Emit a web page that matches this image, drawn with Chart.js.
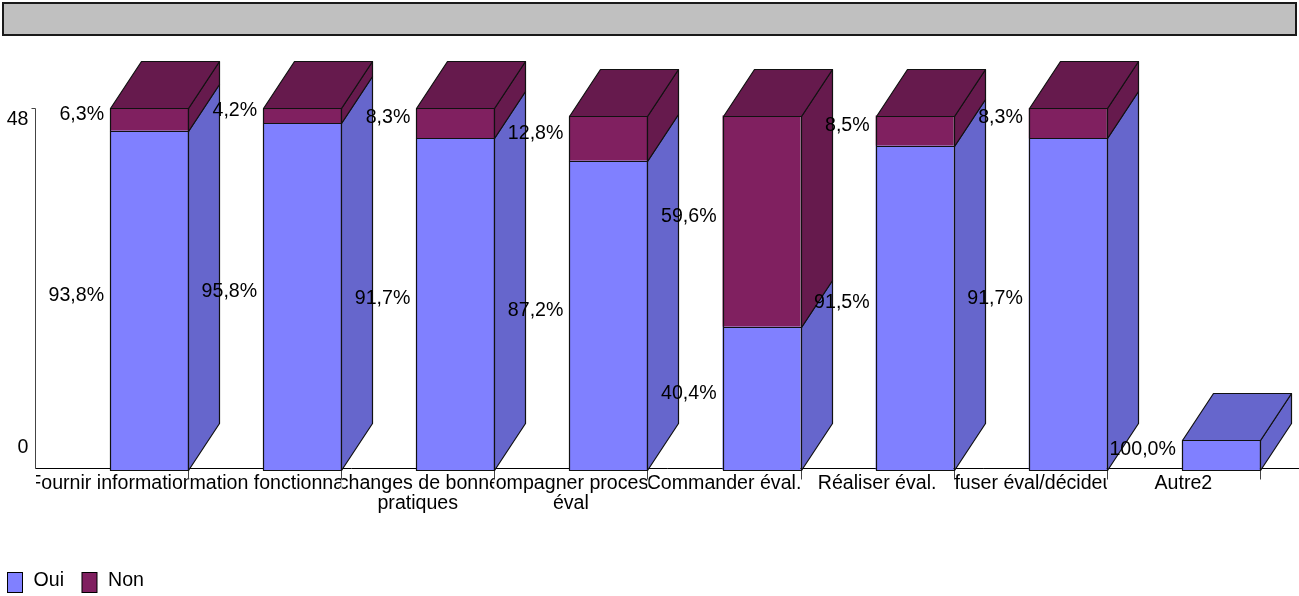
<!DOCTYPE html>
<html>
<head>
<meta charset="utf-8">
<script src="https://cdn.jsdelivr.net/npm/chart.js@4/dist/chart.umd.min.js"></script>
<style>
  body { margin: 0; background: #fff; }
  canvas { display: block; }
</style>
</head>
<body>
<canvas id="barChart" width="1299" height="596"></canvas>
<script>
const categories = [
  "Fournir information",
  "Information fonctionnalités",
  ["Échanges de bonnes", "pratiques"],
  ["Accompagner processus", "éval"],
  "Commander éval.",
  "Réaliser éval.",
  "Diffuser éval/décideurs",
  "Autre2"
];
const ouiCounts = [45, 46, 44, 41, 19, 43, 44, 4];
const nonCounts = [3, 2, 4, 6, 28, 4, 4, 0];
const axisTicks = [0, 48];
const seriesNames = ["Oui", "Non"];

const frontColors = ["#8080FF", "#802060"];
const shadeColors = ["#6666CC", "#661A4D"];
const depthX = 31;
const depthY = 47;
const textFont = "19.6px 'Liberation Sans', Arial, sans-serif";

const formatPct = (v) => v.toFixed(1).replace(".", ",") + "%";

const strokeLine = (ctx, x1, y1, x2, y2) => {
  ctx.beginPath();
  ctx.moveTo(x1, y1);
  ctx.lineTo(x2, y2);
  ctx.stroke();
};

const fillPoly = (ctx, pts, color) => {
  ctx.beginPath();
  ctx.moveTo(pts[0][0], pts[0][1]);
  pts.slice(1).forEach(p => ctx.lineTo(p[0], p[1]));
  ctx.closePath();
  ctx.fillStyle = color;
  ctx.fill();
  ctx.stroke();
};

// slot of a category: the bar front sits at its right edge
const slotOf = (chart, i) => {
  const bar = chart.getDatasetMeta(0).data[i];
  const step = chart.scales.x.width / categories.length;
  const right = bar.x + bar.width / 2;
  return { left: right - step, right: right, center: right - step / 2 };
};

// rounded box of one stacked segment
const boxOf = (el) => ({
  left: Math.round(el.x - el.width / 2) + 0.5,
  right: Math.round(el.x + el.width / 2) + 0.5,
  top: Math.round(Math.min(el.y, el.base)) + 0.5,
  bottom: Math.round(Math.max(el.y, el.base)) + 0.5
});

const cubePlugin = {
  id: "cube3d",
  beforeDatasetsDraw(chart) {
    const ctx = chart.ctx;
    const y = chart.scales.y;
    const axisX = Math.round(slotOf(chart, 0).left) + 0.5;
    const yTop = y.getPixelForValue(axisTicks[1]);
    const yZero = y.getPixelForValue(0);
    const baseY = Math.round(yZero) - 1.5;

    ctx.save();
    ctx.fillStyle = "#C0C0C0";
    ctx.fillRect(3, 3, 1293, 32);
    ctx.strokeStyle = "#1A1A1A";
    ctx.lineWidth = 2;
    ctx.strokeRect(3, 3, 1293, 32);

    ctx.lineWidth = 1;
    ctx.strokeStyle = "#444444";
    strokeLine(ctx, axisX, Math.round(yTop) + 0.5, axisX, baseY);
    strokeLine(ctx, axisX - 4, Math.round(yTop) + 0.5, axisX, Math.round(yTop) + 0.5);
    categories.forEach((c, i) => {
      const r = Math.round(slotOf(chart, i).right) + 0.5;
      strokeLine(ctx, r, baseY, r, baseY + 11);
    });
    ctx.strokeStyle = "#000000";
    strokeLine(ctx, axisX, baseY, chart.width, baseY);

    ctx.font = textFont;
    ctx.fillStyle = "#000";
    ctx.textAlign = "right";
    ctx.textBaseline = "middle";
    ctx.fillText(String(axisTicks[1]), axisX - 7, yTop + 12);
    ctx.fillText(String(axisTicks[0]), axisX - 7, yZero - 22);
    ctx.restore();
  },
  afterDatasetsDraw(chart) {
    const ctx = chart.ctx;
    const metas = [chart.getDatasetMeta(0), chart.getDatasetMeta(1)];
    ctx.save();
    ctx.lineWidth = 1.2;
    ctx.strokeStyle = "#111";
    ctx.lineJoin = "round";

    categories.forEach((c, i) => {
      let topIdx = -1;
      metas.forEach((m, d) => {
        const v = chart.data.datasets[d].data[i];
        if (!v) return;
        topIdx = d;
        const b = boxOf(m.data[i]);
        ctx.strokeRect(b.left, b.top, b.right - b.left, b.bottom - b.top);
        fillPoly(ctx, [
          [b.right, b.bottom], [b.right + depthX, b.bottom - depthY],
          [b.right + depthX, b.top - depthY], [b.right, b.top]
        ], shadeColors[d]);
      });
      if (topIdx >= 0) {
        const b = boxOf(metas[topIdx].data[i]);
        fillPoly(ctx, [
          [b.left, b.top], [b.left + depthX, b.top - depthY],
          [b.right + depthX, b.top - depthY], [b.right, b.top]
        ], shadeColors[topIdx]);
      }
    });
    ctx.restore();
  },
  afterDraw(chart) {
    const ctx = chart.ctx;
    ctx.save();
    ctx.font = textFont;
    ctx.fillStyle = "#000";

    // percentage of each segment, left of its front face
    ctx.textAlign = "right";
    ctx.textBaseline = "middle";
    categories.forEach((c, i) => {
      const total = ouiCounts[i] + nonCounts[i];
      [0, 1].forEach(d => {
        const v = chart.data.datasets[d].data[i];
        if (!v) return;
        const el = chart.getDatasetMeta(d).data[i];
        const left = el.x - el.width / 2;
        const mid = (el.y + el.base) / 2;
        ctx.fillText(formatPct(v / total * 100), left - 6, mid - 5);
      });
    });

    // category names, clipped to their slot
    ctx.textAlign = "center";
    ctx.textBaseline = "alphabetic";
    const baseY = chart.scales.y.getPixelForValue(0);
    categories.forEach((c, i) => {
      const slot = slotOf(chart, i);
      const lines = Array.isArray(c) ? c : [c];
      ctx.save();
      ctx.beginPath();
      ctx.rect(slot.left + 1, baseY + 1, slot.right - slot.left - 1, 80);
      ctx.clip();
      lines.forEach((t, k) => ctx.fillText(t, slot.center, baseY + 19 + k * 20));
      ctx.restore();
    });

    // legend
    ctx.textAlign = "left";
    let lx = 7.5;
    seriesNames.forEach((name, d) => {
      ctx.fillStyle = frontColors[d];
      ctx.fillRect(lx, 572.5, 15, 20);
      ctx.strokeStyle = "#000";
      ctx.lineWidth = 1;
      ctx.strokeRect(lx, 572.5, 15, 20);
      ctx.fillStyle = "#000";
      ctx.fillText(name, lx + 26, 586);
      lx += 26 + ctx.measureText(name).width + 18;
    });
    ctx.restore();
  }
};

new Chart(document.getElementById("barChart"), {
  type: "bar",
  data: {
    labels: categories,
    datasets: [
      {
        label: seriesNames[0],
        data: ouiCounts,
        backgroundColor: frontColors[0],
        borderWidth: 0
      },
      {
        label: seriesNames[1],
        data: nonCounts,
        backgroundColor: frontColors[1],
        borderWidth: 0
      }
    ]
  },
  options: {
    responsive: false,
    animation: false,
    devicePixelRatio: 1,
    layout: { padding: { left: 72.5, right: 1.5, top: 108, bottom: 126 } },
    datasets: { bar: { categoryPercentage: 78 / 153.1, barPercentage: 1 } },
    scales: {
      x: { stacked: true, display: false },
      y: { stacked: true, display: false, min: 0, max: 48 }
    },
    plugins: { legend: { display: false }, tooltip: { enabled: false } }
  },
  plugins: [cubePlugin]
});
</script>
</body>
</html>
